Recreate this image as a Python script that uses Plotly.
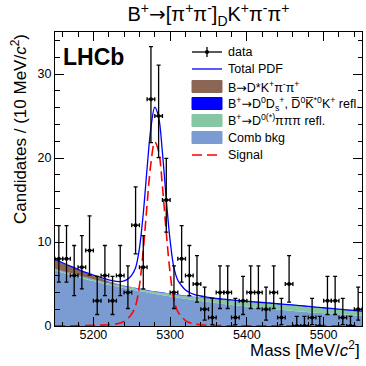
import numpy as np
import plotly.graph_objects as go

# ---------------- data ----------------
bin_centres = list(range(5155, 5550, 10))          # 10 MeV bins, 5150-5550
counts = [8, 8, 6, 7, 9, 3, 6, 3, 6, 4,
          12, 7, 27, 25, 15, 4, 8, 6, 5, 2,
          1, 4, 4, 1, 3, 4, 4, 2, 4, 1,
          5, 0, 0, 1, 0, 3, 3, 1, 0, 2]
bin_half_width = 5.0

# RooFit-style Poisson intervals (lower err, upper err) per count
poisson_err = {0: (0.0, 1.148), 1: (0.827, 2.300), 2: (1.292, 2.638),
               3: (1.633, 2.918), 4: (1.914, 3.162), 5: (2.159, 3.382),
               6: (2.379, 3.583), 7: (2.582, 3.770), 8: (2.768, 3.945),
               9: (2.943, 4.110), 12: (3.411, 4.554), 15: (3.825, 4.954),
               25: (4.963, 6.063), 27: (5.160, 6.260)}

# fit components sampled along the mass axis
curve_mass = [5150, 5160, 5170, 5180, 5190, 5200, 5210, 5220, 5230,
              5235, 5240, 5245, 5250, 5255, 5260, 5265, 5270, 5275, 5280,
              5285, 5290, 5295, 5300, 5305, 5310, 5315, 5320, 5325, 5330,
              5340, 5350, 5360, 5370, 5380, 5390, 5400, 5410, 5420, 5430,
              5440, 5450, 5460, 5470, 5480, 5490, 5500, 5510, 5520, 5530,
              5540, 5550]
comb_bkg = [6.60, 6.33, 6.07, 5.82, 5.58, 5.35, 5.13, 4.92, 4.72,
            4.62, 4.52, 4.43, 4.34, 4.25, 4.16, 4.07, 3.99, 3.90, 3.82,
            3.74, 3.67, 3.59, 3.52, 3.44, 3.37, 3.30, 3.23, 3.16, 3.10,
            2.97, 2.85, 2.73, 2.62, 2.51, 2.41, 2.31, 2.21, 2.12, 2.04,
            1.95, 1.87, 1.80, 1.72, 1.65, 1.58, 1.52, 1.46, 1.40, 1.34,
            1.28, 1.23]
refl_3pi = [0.20, 0.20, 0.20, 0.20, 0.20, 0.20, 0.21, 0.21, 0.22,
            0.22, 0.22, 0.23, 0.23, 0.24, 0.24, 0.25, 0.25, 0.26, 0.27,
            0.28, 0.29, 0.30, 0.31, 0.32, 0.33, 0.34, 0.35, 0.36, 0.37,
            0.40, 0.43, 0.46, 0.49, 0.52, 0.55, 0.58, 0.60, 0.62, 0.64,
            0.65, 0.66, 0.66, 0.65, 0.64, 0.62, 0.60, 0.58, 0.56, 0.54,
            0.52, 0.50]
refl_dds = [0.03, 0.03, 0.03, 0.03, 0.03, 0.03, 0.03, 0.04, 0.04,
            0.04, 0.04, 0.04, 0.05, 0.05, 0.05, 0.05, 0.05, 0.05, 0.05,
            0.05, 0.05, 0.05, 0.05, 0.05, 0.05, 0.05, 0.05, 0.05, 0.05,
            0.05, 0.05, 0.04, 0.04, 0.04, 0.04, 0.04, 0.04, 0.04, 0.04,
            0.04, 0.04, 0.04, 0.04, 0.04, 0.04, 0.04, 0.04, 0.04, 0.04,
            0.04, 0.04]
part_reco = [1.10, 0.95, 0.80, 0.66, 0.52, 0.40, 0.28, 0.17, 0.08,
             0.05, 0.03, 0.01, 0.0, 0.0, 0.0, 0.0, 0.0, 0.0, 0.0,
             0.0, 0.0, 0.0, 0.0, 0.0, 0.0, 0.0, 0.0, 0.0, 0.0,
             0.0, 0.0, 0.0, 0.0, 0.0, 0.0, 0.0, 0.0, 0.0, 0.0,
             0.0, 0.0, 0.0, 0.0, 0.0, 0.0, 0.0, 0.0, 0.0, 0.0,
             0.0, 0.0]
signal = [0.02, 0.02, 0.03, 0.04, 0.05, 0.07, 0.10, 0.15, 0.25,
          0.35, 0.55, 0.90, 1.45, 2.40, 4.80, 9.00, 14.5, 19.4, 21.9,
          20.8, 16.6, 11.1, 6.3, 3.1, 1.7, 1.1, 0.65, 0.42, 0.28,
          0.15, 0.08, 0.05, 0.04, 0.03, 0.03, 0.02, 0.02, 0.02, 0.02,
          0.01, 0.01, 0.01, 0.01, 0.01, 0.01, 0.01, 0.01, 0.01, 0.01,
          0.01, 0.01]

x_ticks = [5200, 5300, 5400, 5500]
y_ticks = [0, 10, 20, 30]

# ---------------- styles ----------------
FONT = "Liberation Sans, Arial, sans-serif"
ARROW = '<span style="font-family:DejaVu Sans">→</span>'
C_COMB = "#7b9bd3"
C_3PI = "#86c6a2"
C_DDS = "#0000ff"
C_PART = "#8c6654"
C_TOTAL = "#0000ff"
C_SIG = "#ff0000"

stack1 = np.array(comb_bkg)
stack2 = stack1 + np.array(refl_3pi)
stack3 = stack2 + np.array(refl_dds)
stack4 = stack3 + np.array(part_reco)
total = stack4 + np.array(signal)

err_lo = [poisson_err[n][0] for n in counts]
err_hi = [poisson_err[n][1] for n in counts]

fig = go.Figure()
for ys, col, fillmode in [(stack1, C_COMB, "tozeroy"), (stack2, C_3PI, "tonexty"),
                          (stack3, C_DDS, "tonexty"), (stack4, C_PART, "tonexty")]:
    fig.add_trace(go.Scatter(x=curve_mass, y=ys, mode="lines", fill=fillmode,
                             fillcolor=col, line=dict(width=0, color=col, shape="spline"),
                             showlegend=False, hoverinfo="skip"))
fig.add_trace(go.Scatter(x=curve_mass, y=total, mode="lines",
                         line=dict(color=C_TOTAL, width=1.3, shape="spline"),
                         showlegend=False))
fig.add_trace(go.Scatter(x=curve_mass, y=signal, mode="lines",
                         line=dict(color=C_SIG, width=1.6, dash="10px,5px", shape="spline"),
                         showlegend=False))
fig.add_trace(go.Scatter(x=bin_centres, y=counts, mode="markers",
                         marker=dict(color="black", size=4),
                         error_y=dict(type="data", symmetric=False, array=err_hi,
                                      arrayminus=err_lo, color="black", thickness=1.3, width=2),
                         error_x=dict(type="constant", value=bin_half_width, color="black",
                                      thickness=1.3, width=2),
                         showlegend=False))

# ---------------- legend (drawn as guide shapes/text) ----------------
L, T, PW, PH = 55, 32, 307, 294
def px(xp):
    return (xp - L) / PW
def py(yp):
    return (T + PH - yp) / PH

legend_rows = [52, 69, 86.5, 103.5, 120.5, 137.5, 155]
legend_text = ["data", "Total PDF",
               "B" + ARROW + "D*K<sup>+</sup>π<sup>-</sup>π<sup>+</sup>",
               "B<sup>+</sup>" + ARROW + "D<sup>0</sup>D<sub>s</sub><sup>+</sup>, D\u0305<sup>0</sup>K\u0305<sup>*0</sup>K<sup>+</sup> refl.",
               "B<sup>+</sup>" + ARROW + "D<sup>0(*)</sup>πππ refl.",
               "Comb bkg", "Signal"]
sx0, sx1, tx = 192, 222, 226
shapes = []
r = legend_rows
shapes.append(dict(type="line", xref="paper", yref="paper", x0=px(sx0), x1=px(sx1),
                   y0=py(r[0]), y1=py(r[0]), line=dict(color="black", width=1.3)))
shapes.append(dict(type="line", xref="paper", yref="paper", x0=px(207), x1=px(207),
                   y0=py(r[0] - 5), y1=py(r[0] + 5), line=dict(color="black", width=1.3)))
shapes.append(dict(type="circle", xref="paper", yref="paper", x0=px(205), x1=px(209),
                   y0=py(r[0] + 2), y1=py(r[0] - 2), fillcolor="black", line=dict(width=0)))
shapes.append(dict(type="line", xref="paper", yref="paper", x0=px(sx0), x1=px(sx1),
                   y0=py(r[1]), y1=py(r[1]), line=dict(color=C_TOTAL, width=1.3)))
for row, col in zip(r[2:6], [C_PART, C_DDS, C_3PI, C_COMB]):
    shapes.append(dict(type="rect", xref="paper", yref="paper", x0=px(sx0), x1=px(sx1),
                       y0=py(row + 6), y1=py(row - 6), fillcolor=col,
                       line=dict(color=col, width=1)))
shapes.append(dict(type="line", xref="paper", yref="paper", x0=px(sx0), x1=px(sx1),
                   y0=py(r[6]), y1=py(r[6]), line=dict(color=C_SIG, width=1.6, dash="10px,5px")))

annotations = []
for row, txt in zip(r, legend_text):
    annotations.append(dict(text=txt, xref="paper", yref="paper", x=px(tx), y=py(row),
                            xanchor="left", yanchor="middle", showarrow=False,
                            font=dict(family=FONT, size=12.5, color="black")))
annotations.append(dict(text="<b>LHCb</b>", xref="paper", yref="paper", x=px(61), y=py(57),
                        xanchor="left", yanchor="middle", showarrow=False,
                        font=dict(family=FONT, size=23, color="black")))
annotations.append(dict(text="Mass [MeV/<i>c</i><sup>2</sup>]", xref="paper", yref="paper",
                        x=1, y=py(349), xanchor="right", yanchor="middle", showarrow=False,
                        font=dict(family=FONT, size=17, color="black")))
annotations.append(dict(text="Candidates / (10 MeV/<i>c</i><sup>2</sup>)", xref="paper",
                        yref="paper", x=px(19), y=1, xanchor="center", yanchor="top",
                        textangle=-90, showarrow=False,
                        font=dict(family=FONT, size=17, color="black")))

axis_common = dict(showgrid=False, zeroline=False, showline=True, linecolor="black",
                   linewidth=1, mirror="ticks", ticks="inside", ticklen=9, tickwidth=1,
                   tickcolor="black", tickfont=dict(family=FONT, size=12.5, color="black"))
fig.update_layout(
    width=366, height=366,
    margin=dict(l=L, r=366 - L - PW, t=T, b=366 - T - PH),
    paper_bgcolor="white", plot_bgcolor="white",
    title=dict(text="B<sup>+</sup>" + ARROW + "[π<sup>+</sup>π<sup>-</sup>]<sub>D</sub>K<sup>+</sup>π<sup>-</sup>π<sup>+</sup>",
               x=0.5, xref="paper", xanchor="center", y=0.98, yref="container", yanchor="top",
               font=dict(family=FONT, size=20, color="black")),
    xaxis=dict(range=[5150, 5550], tickvals=x_ticks, ticklabelstandoff=-3,
               minor=dict(dtick=20, tick0=5200, ticks="inside", ticklen=4.5, tickcolor="black"),
               **axis_common),
    yaxis=dict(range=[0, 35], tickvals=y_ticks,
               minor=dict(dtick=2, tick0=0, ticks="inside", ticklen=4.5, tickcolor="black"),
               **axis_common),
    shapes=shapes, annotations=annotations, showlegend=False,
)
fig.write_html("out.html", config={"displayModeBar": False},
               post_script="document.body.style.margin='0px';")
